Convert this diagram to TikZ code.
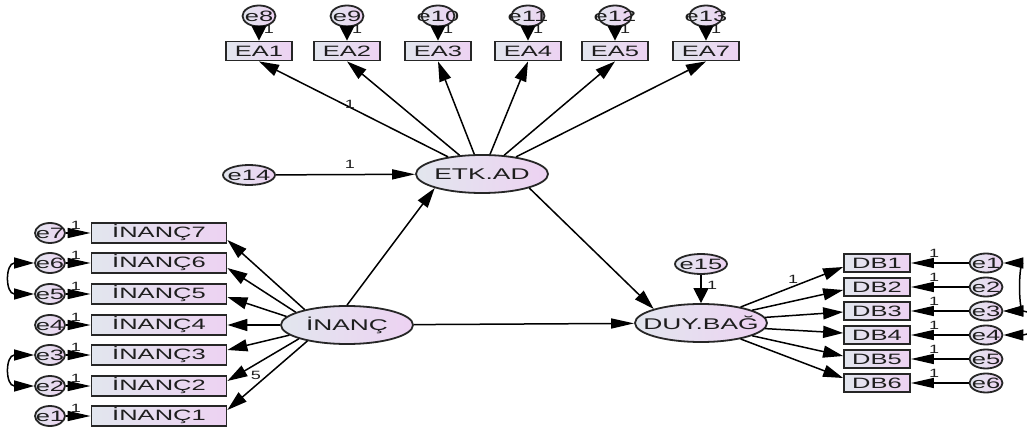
\documentclass[tikz,border=0pt]{standalone}
\usepackage{fontspec}
\setmainfont{Liberation Sans}
\usetikzlibrary{shapes.geometric,arrows.meta,calc}
\definecolor{fl}{HTML}{E2E6EE}
\definecolor{fr}{HTML}{EDD2F2}
\definecolor{bord}{HTML}{262626}
\definecolor{txt}{HTML}{1E1E1E}
\newcommand\tx[1]{\makebox[0pt]{\scalebox{1.7}[1]{#1}}}
\newcommand\lx[1]{\scalebox{1.5}[1]{#1}}
\tikzset{
 base/.style={draw=bord, line width=1.8pt, left color=fl, right color=fr, inner sep=0pt, text=txt},
 obs/.style={base, rectangle, minimum width=66pt, minimum height=19pt, font=\fontsize{15}{15}\selectfont},
 obsL/.style={obs, minimum width=135pt, minimum height=20pt},
 lat/.style={base, ellipse, minimum width=132pt, minimum height=38pt, font=\fontsize{15.5}{16}\selectfont},
 err/.style={base, ellipse, minimum width=33pt, minimum height=21pt, font=\fontsize{15}{15}\selectfont},
 errw/.style={err, minimum width=52pt, minimum height=20pt},
 lbl/.style={font=\fontsize{12}{12}\selectfont, text=txt, inner sep=0pt},
 con/.style={line width=1.5pt, draw=black},
 arrv/.style={con, -{Triangle[length=15pt,width=15pt]}},
 arrh/.style={con, -{Triangle[length=23pt,width=10pt]}},
 arrd/.style={con, -{Triangle[length=20pt,width=12pt]}},
 cov/.style={con, {Triangle[length=20pt,width=11pt]}-{Triangle[length=20pt,width=11pt]}},
}
\begin{document}
\begin{tikzpicture}[x=1pt,y=-1pt]
\useasboundingbox (0,0) rectangle (1027,435);

% top indicators
\foreach \x/\e/\b in {259/8/1, 347/9/2, 438/10/3, 528/11/4, 615/12/5, 706/13/7}{
  \node[err] (e\e) at (\x,16) {\tx{e\e}};
  \node[obs] (EA\b) at (\x,51) {\tx{EA\b}};
  \draw[arrv] (e\e) -- (EA\b);
  \node[lbl] (lt\e) at (\x+10,29) {\lx{1}};
}

% latents
\node[lat] (ETK) at (482,174) {\tx{ETK.AD}};
\node[lat] (INANC) at (347,325) {\tx{İNANÇ}};
\node[lat] (DUY) at (701,323) {\tx{DUY.BAĞ}};
\node[errw] (e14) at (249,175) {\tx{e14}};
\node[errw] (e15) at (701,264) {\tx{e15}};

\foreach \b in {1,2,3,4,5,7}{
  \draw[arrd] (ETK) -- (EA\b.south);
}
\node[lbl] (lEA1) at (350,104) {\lx{1}};
\draw[arrh] (e14) -- (ETK);
\node[lbl] (l14) at (350,164) {\lx{1}};
\draw[arrv] (e15) -- (DUY);
\node[lbl] (l15) at (712,285) {\lx{1}};

\draw[arrd] (INANC.north) -- (ETK.south west);
\draw[arrh] (INANC) -- (DUY);
\draw[arrd] (ETK.south east) -- (DUY.north west);

% left indicators
\foreach \i/\y/\a/\o in {7/233/160/7, 6/263/166/5, 5/294/172/3, 4/325/180/0, 3/355/190/-5, 2/386/196/-5, 1/416/202/-6}{
  \node[obsL] (I\i) at (159,\y) {\tx{İNANÇ\i}};
  \node[err, minimum width=30pt, minimum height=20pt] (eL\i) at (50,\y) {\tx{e\i}};
  \draw[arrh] (eL\i) -- (I\i);
  \node[lbl] (lL\i) at (76,\y-8) {\lx{1}};
  \draw[arrd] (INANC.\a) -- ($(I\i.east)+(0,\o)$);
}
\node[lbl] (l5) at (256,375) {\lx{5}};
\draw[cov] (eL6.west) to[out=180,in=180,looseness=2.4] (eL5.west);
\draw[cov] (eL3.west) to[out=180,in=180,looseness=2.4] (eL2.west);

% right indicators
\foreach \i/\y/\a/\o in {1/263/22/4, 2/287/14/3, 3/311/5/1, 4/335/-5/-2, 5/359/-14/-3, 6/383/-22/-5}{
  \node[obs, minimum height=18pt] (DB\i) at (877,\y) {\tx{DB\i}};
  \node[err, minimum height=19pt] (eR\i) at (986,\y) {\tx{e\i}};
  \draw[arrh] (eR\i) -- (DB\i);
  \node[lbl] (lR\i) at (934,\y-10) {\lx{1}};
  \draw[arrd] (DUY.\a) -- ($(DB\i.west)+(0,\o)$);
}
\node[lbl] (lD1) at (793,279) {\lx{1}};
\draw[cov] (eR1.east) to[out=0,in=0,looseness=0.8] (eR3.east);
\draw[cov] (eR3.east) to[out=0,in=0,looseness=3.5] (eR4.east);
\end{tikzpicture}
\end{document}
